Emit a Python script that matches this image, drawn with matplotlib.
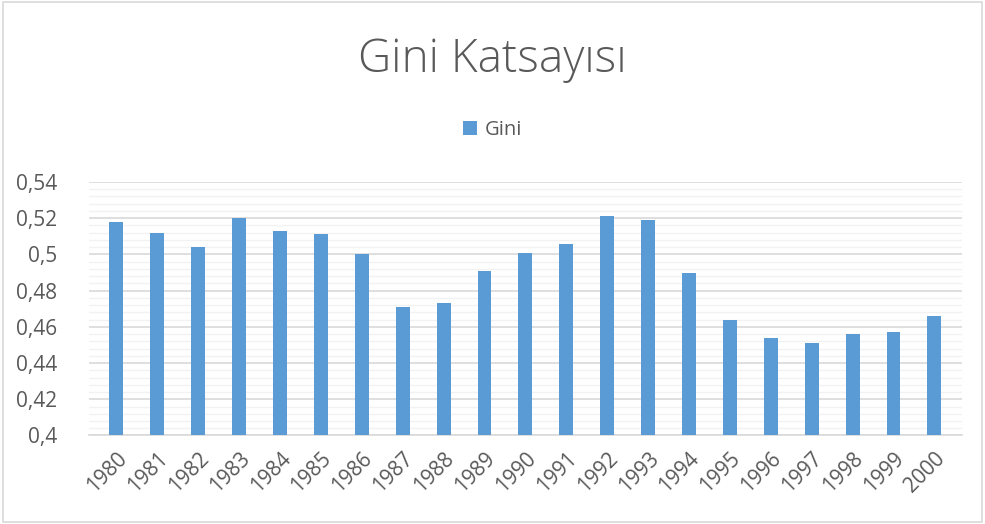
import matplotlib.pyplot as plt
from matplotlib.ticker import MultipleLocator, FuncFormatter
from matplotlib.patches import Rectangle

years = ["1980", "1981", "1982", "1983", "1984", "1985", "1986", "1987", "1988", "1989", "1990",
         "1991", "1992", "1993", "1994", "1995", "1996", "1997", "1998", "1999", "2000"]
gini = [0.518, 0.512, 0.504, 0.520, 0.513, 0.511, 0.500, 0.471, 0.473, 0.491, 0.501,
        0.506, 0.521, 0.519, 0.490, 0.464, 0.454, 0.451, 0.456, 0.457, 0.466]

plt.rcParams['font.family'] = ['Open Sans', 'DejaVu Sans']
text_col = "#595959"

fig = plt.figure(figsize=(9.85, 5.24), dpi=100)
ax = fig.add_axes([0.0904, 0.1689, 0.886, 0.4838])

x = range(len(years))
ax.bar(x, gini, width=0.34, color="#5B9BD5", label="Gini", zorder=3)

ax.set_ylim(0.4, 0.54)
ax.set_xlim(-0.67, len(years) - 0.33)
ax.yaxis.set_major_locator(MultipleLocator(0.02))
ax.yaxis.set_minor_locator(MultipleLocator(0.004))
ax.yaxis.set_major_formatter(FuncFormatter(lambda v, p: ("%g" % round(v, 3)).replace(".", ",")))
ax.grid(axis="y", which="major", color="#D9D9D9", linewidth=1.2, zorder=1)
ax.grid(axis="y", which="minor", color="#F2F2F2", linewidth=1.0, zorder=0)

ax.set_xticks(list(x))
ax.set_xticklabels(years, rotation=45, ha="right", va="top", rotation_mode="anchor")
ax.tick_params(axis="both", which="both", length=0, labelsize=15, labelcolor=text_col)
ax.tick_params(axis="x", pad=9)
ax.tick_params(axis="y", pad=23)

for s in ["top", "right", "left"]:
    ax.spines[s].set_visible(False)
ax.spines["bottom"].set_color("#D9D9D9")
ax.spines["bottom"].set_linewidth(1.2)

fig.text(0.5, 0.885, "Gini Katsayısı", ha="center", va="center", fontsize=33,
         color=text_col, fontweight="light")
fig.legend(loc="center", bbox_to_anchor=(0.5, 0.752), frameon=False, fontsize=14.5,
           handlelength=0.7, handleheight=0.7, handletextpad=0.35, labelcolor=text_col)

fig.patches.append(Rectangle((0.003, 0.004), 0.994, 0.992, transform=fig.transFigure,
                             fill=False, edgecolor="#D9D9D9", linewidth=1.2))

fig.savefig("out.png", dpi=100)
